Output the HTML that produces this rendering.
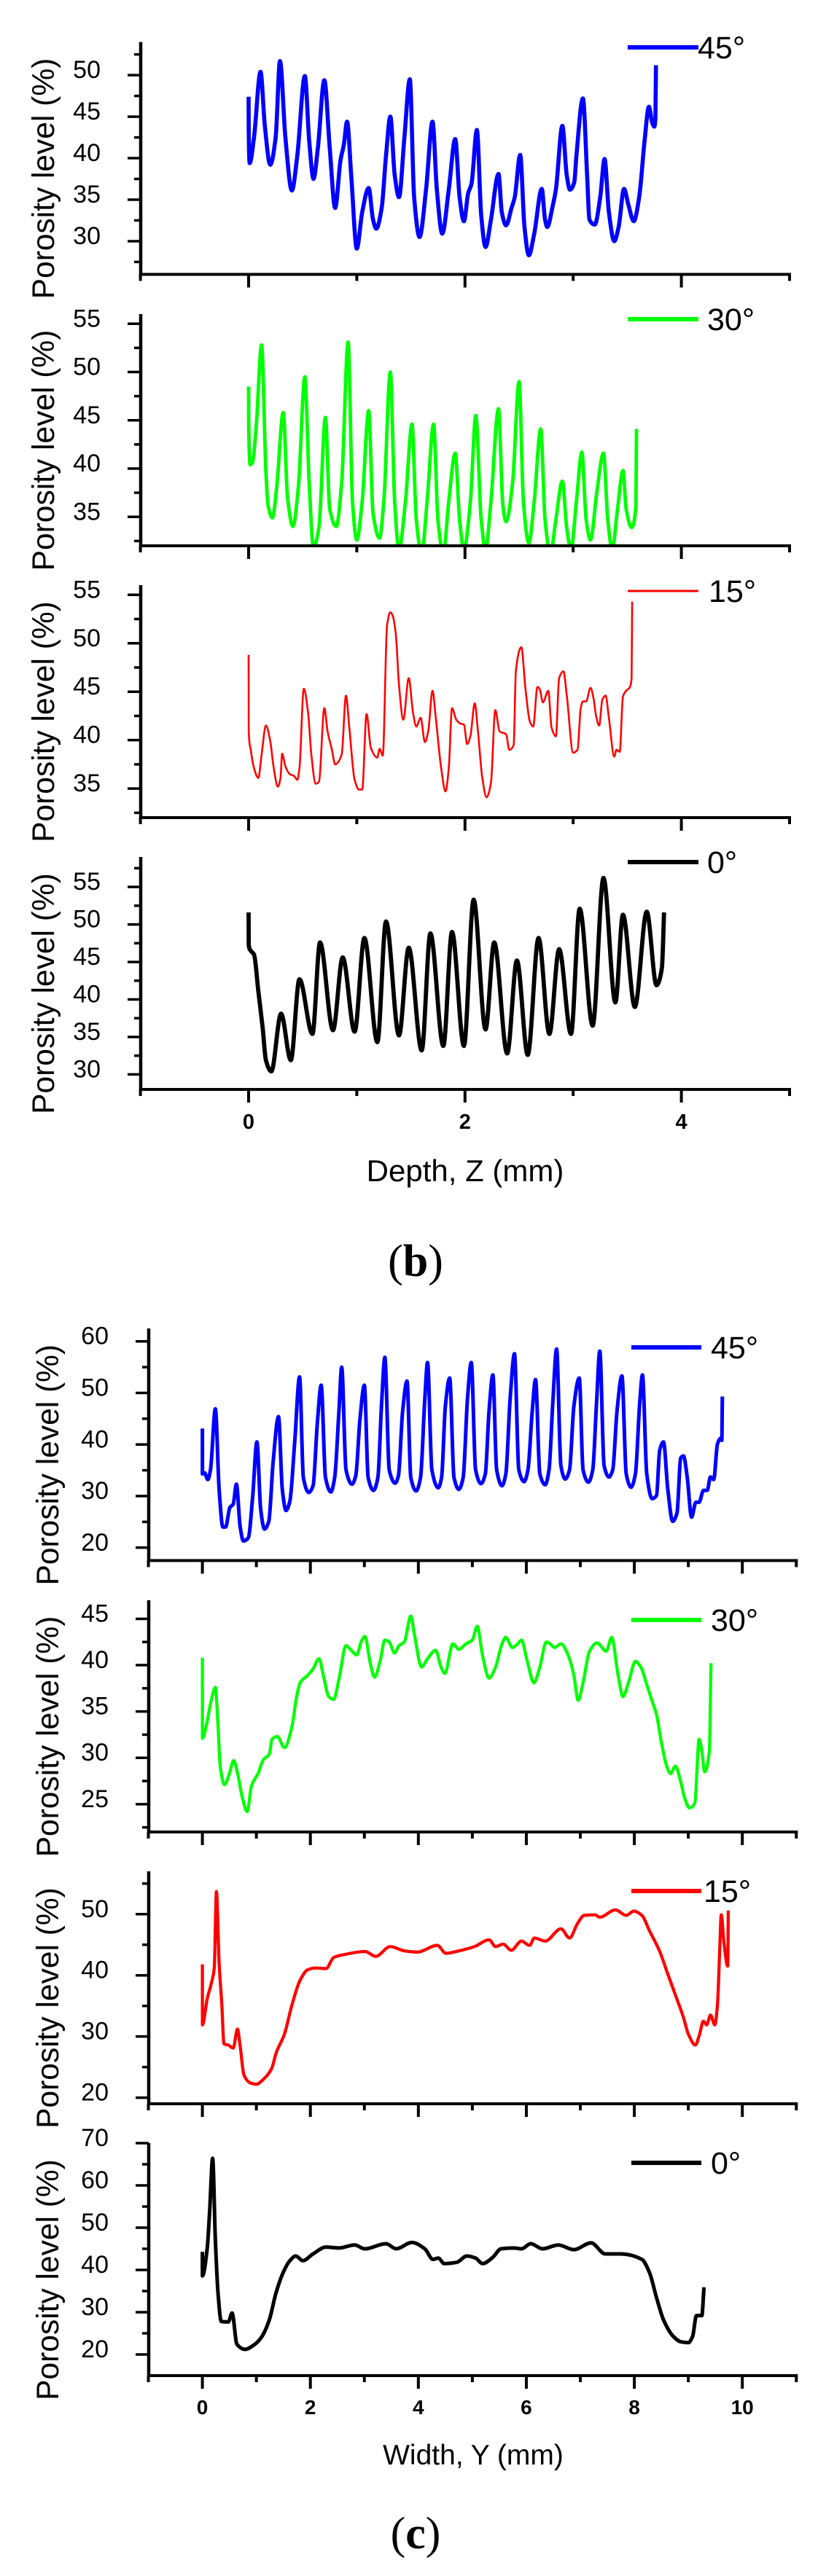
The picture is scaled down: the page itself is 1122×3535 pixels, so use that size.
<!DOCTYPE html>
<html lang="en">
<head>
<meta charset="utf-8">
<title>Porosity level by depth and width</title>
<style>
html,body{margin:0;padding:0;background:#fff;}
svg{display:block;}
text{font-family:"Liberation Sans",Arial,sans-serif;fill:#000;}
.cap{font-family:"Liberation Serif",serif;}
</style>
</head>
<body>
<svg id="chart" xmlns="http://www.w3.org/2000/svg" width="1122" height="3535" viewBox="0 0 1122 3535">
<rect x="0" y="0" width="1122" height="3535" fill="#fff"/>
</svg>
<script>
// ---------- x-axis ticks ----------
const depthTicks = [-1, 0, 1, 2, 3, 4, 5];
const depthLabels = [0, 2, 4];
const widthTicks = [-1, 0, 1, 2, 3, 4, 5, 6, 7, 8, 9, 10, 11];
const widthLabels = [0, 2, 4, 6, 8, 10];

// ---------- y-axis tick labels ----------
const ticksB45 = [30, 35, 40, 45, 50];
const ticksB30 = [35, 40, 45, 50, 55];
const ticksB15 = [35, 40, 45, 50, 55];
const ticksB0 = [30, 35, 40, 45, 50, 55];
const ticksC45 = [20, 30, 40, 50, 60];
const ticksC30 = [25, 30, 35, 40, 45];
const ticksC15 = [20, 30, 40, 50];
const ticksC0 = [20, 30, 40, 50, 60, 70];

// ---------- series: [position mm, porosity %] ----------
const depth45 = [[0,47.4],[.001,43.4],[.01,39.4],[.05,42.5],[.11,50.4],[.15,43.9],[.2,39.2],[.25,42.5],[.29,51.7],[.34,42.5],[.4,36.1],[.45,40.3],[.52,49.9],[.56,42.1],[.6,37.5],[.64,41.2],[.7,49.4],[.75,41.2],[.8,34],[.85,39.8],[.88,41.6],[.91,44.4],[.95,37.6],[1,29.1],[1.05,33.5],[1.11,36.4],[1.15,32.6],[1.18,31.5],[1.23,34],[1.27,40.3],[1.31,45],[1.35,38],[1.39,35.3],[1.44,42.5],[1.49,49.5],[1.53,35.3],[1.58,30.5],[1.64,36.2],[1.7,44.4],[1.74,36.2],[1.79,30.9],[1.85,36.2],[1.91,42.3],[1.95,35.3],[1.99,32.4],[2.03,35.8],[2.06,36.9],[2.11,43.4],[2.15,33.1],[2.19,29.3],[2.24,32.6],[2.31,38.1],[2.34,33.5],[2.38,31.9],[2.43,34],[2.46,35.3],[2.51,40.4],[2.55,31.7],[2.59,28.3],[2.64,30.9],[2.71,36.3],[2.74,32.6],[2.76,31.7],[2.81,34.2],[2.84,36.2],[2.9,43.9],[2.94,38],[2.97,36.2],[3.01,37.1],[3.03,40.3],[3.09,47.2],[3.13,37.6],[3.15,32.6],[3.2,32],[3.25,35.3],[3.29,39.9],[3.33,33.5],[3.38,30],[3.42,31.7],[3.47,36.3],[3.51,34.4],[3.56,32.4],[3.61,35.3],[3.66,42.1],[3.7,46.2],[3.73,44.3],[3.75,43.8],[3.76,44.8],[3.765,51.2]];

const depth30 = [[0,48.5],[.001,44.6],[.015,40.4],[.035,40.6],[.07,44.3],[.12,52.8],[.16,39.7],[.18,36.2],[.22,34.9],[.26,38.1],[.32,45.8],[.36,37],[.41,34],[.46,38.1],[.52,49.5],[.56,38.5],[.6,31.8],[.65,33.9],[.71,45.3],[.75,35.8],[.81,34],[.86,38.5],[.92,53.1],[.96,36.6],[1,32.6],[1.05,36.6],[1.11,46],[1.15,35.4],[1.21,32.8],[1.25,36.6],[1.31,50],[1.35,36.6],[1.39,31.6],[1.45,36.6],[1.51,44.6],[1.55,34.7],[1.6,31.2],[1.65,36.6],[1.71,44.6],[1.75,34.7],[1.8,31.2],[1.85,36.6],[1.91,41.6],[1.95,34.7],[1.99,31.6],[2.05,36.6],[2.1,45.5],[2.15,34.7],[2.19,31.6],[2.24,36.6],[2.31,46.2],[2.35,36.2],[2.38,34.5],[2.44,38.5],[2.5,49],[2.54,36.6],[2.59,32.3],[2.64,36.6],[2.7,44.1],[2.74,34.7],[2.79,31.2],[2.84,34.7],[2.9,38.7],[2.94,33.9],[2.98,31.6],[3.03,36.6],[3.08,41.7],[3.12,34.7],[3.16,32.6],[3.22,37.7],[3.28,41.6],[3.32,34.7],[3.36,31.6],[3.41,35.8],[3.46,39.8],[3.49,35.8],[3.54,33.9],[3.58,36.2],[3.585,44.1]];

const depth15 = [[0,48.8],[.001,40.9],[.02,39],[.05,37.1],[.09,36.1],[.12,38.5],[.16,41.5],[.2,39.9],[.23,37.3],[.27,35.2],[.295,36.1],[.31,38.6],[.34,37.3],[.38,36.5],[.42,36.3],[.45,35.9],[.47,37.1],[.51,45.3],[.55,42.8],[.58,38.5],[.62,35.5],[.65,35.7],[.7,43.3],[.73,40.9],[.77,39],[.8,37.5],[.86,38.5],[.9,44.6],[.93,41.4],[.98,35.9],[1.02,34.9],[1.05,34.9],[1.09,42.7],[1.13,39.2],[1.19,38.2],[1.21,39.1],[1.24,38.4],[1.28,51.9],[1.31,53.2],[1.33,52.9],[1.36,51],[1.39,45.7],[1.43,42.1],[1.48,46.4],[1.52,42.8],[1.55,41.4],[1.59,42.3],[1.63,39.8],[1.66,40.9],[1.7,45.1],[1.73,42.3],[1.78,37.1],[1.82,34.7],[1.85,37.1],[1.88,43.3],[1.92,42.1],[1.96,41.7],[1.99,41.6],[2.02,39.6],[2.05,40.4],[2.09,43.8],[2.12,40.9],[2.16,36.1],[2.2,34.1],[2.24,35.6],[2.28,43.1],[2.32,40.9],[2.38,40.6],[2.41,39],[2.45,39.5],[2.47,47.1],[2.52,49.6],[2.56,45.2],[2.6,41.9],[2.63,41.4],[2.67,45.5],[2.69,45.3],[2.72,43.9],[2.77,45.1],[2.8,41.3],[2.84,40.4],[2.87,46.4],[2.91,47.1],[2.94,44.7],[3,38.7],[3.04,39],[3.07,43.3],[3.09,44],[3.12,44],[3.16,45.4],[3.19,44.2],[3.21,42.6],[3.24,41.5],[3.27,44.2],[3.3,44.6],[3.33,42.3],[3.38,38.3],[3.4,39],[3.43,38.8],[3.46,44.5],[3.49,45.1],[3.52,45.4],[3.54,46.4],[3.545,54.3]];

const depth0 = [[0,51.6],[.001,47.3],[.02,46.5],[.05,46],[.09,41.1],[.13,36.2],[.16,31.9],[.21,30.4],[.3,38.1],[.39,31.9],[.47,42.7],[.59,35.4],[.66,47.6],[.78,35.9],[.87,45.6],[.98,35.7],[1.07,48.2],[1.19,34.3],[1.27,50.4],[1.39,35.2],[1.48,46.9],[1.6,33.2],[1.68,48.8],[1.8,33.8],[1.88,49],[1.99,33.8],[2.08,53.3],[2.19,36],[2.27,47.6],[2.39,32.8],[2.48,45.2],[2.58,32.6],[2.68,48.2],[2.78,35.4],[2.87,46.7],[2.98,35.4],[3.06,52.1],[3.18,36.5],[3.28,56.2],[3.39,39.6],[3.46,51.3],[3.57,39],[3.68,51.7],[3.77,41.9],[3.82,44.2],[3.84,51.6]];

const width45 = [[0,43.1],[.001,34.3],[.04,34.5],[.1,33.2],[.15,35.1],[.24,46.9],[.31,31.3],[.38,24],[.43,24],[.51,27.8],[.57,28.4],[.63,32.3],[.7,24],[.76,21.3],[.85,21.9],[.93,29.7],[1.01,40.5],[1.08,27.4],[1.15,23.6],[1.23,25.1],[1.31,36.6],[1.41,45.4],[1.48,31.3],[1.55,27.2],[1.62,29],[1.71,40.5],[1.8,53.1],[1.87,33.6],[1.97,30.7],[2.05,32],[2.13,44.3],[2.2,51.5],[2.28,33.6],[2.38,30.8],[2.45,33.6],[2.53,46.6],[2.58,55],[2.66,35.1],[2.77,32.3],[2.84,33.9],[2.92,45.1],[3,51.5],[3.07,33.6],[3.17,31.1],[3.25,33.6],[3.32,48.1],[3.38,56.9],[3.46,35.1],[3.57,32.5],[3.63,33.9],[3.71,46.6],[3.79,52.3],[3.86,33.6],[3.96,31],[4.04,33.6],[4.12,48.9],[4.17,55.9],[4.25,35.1],[4.37,31.6],[4.43,33.6],[4.5,47.4],[4.58,52.9],[4.66,33.6],[4.75,31.3],[4.83,33.6],[4.91,48.9],[4.98,55.9],[5.06,35.1],[5.16,32.4],[5.24,34.3],[5.31,46.6],[5.38,53.5],[5.45,35.1],[5.55,32],[5.62,34.3],[5.7,48.9],[5.78,57.6],[5.86,35.1],[5.96,32.8],[6.03,35.1],[6.11,46.6],[6.17,52.6],[6.25,34.3],[6.35,32.2],[6.42,35.1],[6.49,48.1],[6.56,58.5],[6.64,35.9],[6.72,33.3],[6.8,35.1],[6.88,47.4],[6.98,52.9],[7.05,35.1],[7.15,32.7],[7.23,35.1],[7.3,48.1],[7.36,58.1],[7.44,35.9],[7.53,33.7],[7.6,35.1],[7.68,46.6],[7.77,53.3],[7.85,34.3],[7.94,31.7],[8.02,34.3],[8.1,48.1],[8.15,53.5],[8.23,34.3],[8.33,29.5],[8.41,30.1],[8.47,38.9],[8.54,40.5],[8.62,31.3],[8.71,25.1],[8.79,26.7],[8.86,37.4],[8.91,37.8],[8.98,33.6],[9.06,25.9],[9.14,28.8],[9.2,28.8],[9.28,31.1],[9.35,31.1],[9.41,33.7],[9.47,33.2],[9.54,40.1],[9.6,41.2],[9.62,40.8],[9.63,49.3]];

const width30 = [[0,40.8],[.001,32.1],[.07,33.4],[.16,36.1],[.24,37.6],[.29,33.4],[.33,29.1],[.41,27.1],[.5,28.3],[.58,29.7],[.66,28.1],[.74,25.7],[.83,24.2],[.91,27],[1.03,28.3],[1.13,29.8],[1.24,30.4],[1.29,32],[1.39,32.3],[1.52,31.1],[1.66,33.4],[1.74,36.4],[1.81,38.1],[1.95,38.9],[2.05,39.6],[2.16,40.7],[2.24,38.9],[2.34,36.6],[2.43,36.3],[2.53,38.5],[2.66,42.1],[2.74,41.7],[2.86,41.1],[2.94,42.5],[3.01,43.1],[3.11,40.2],[3.19,38.7],[3.29,40.4],[3.38,42.7],[3.46,42.5],[3.56,41.3],[3.64,42.1],[3.74,42.5],[3.86,45.3],[3.93,43.2],[4.06,39.8],[4.17,40.7],[4.32,41.6],[4.42,39.8],[4.49,39.1],[4.64,42.3],[4.75,41.7],[4.88,42.3],[5,42.7],[5.09,44.2],[5.19,41],[5.31,38.6],[5.43,39.8],[5.55,42.3],[5.62,43],[5.74,41.9],[5.84,42.3],[5.91,42.7],[6.01,40.6],[6.14,38.1],[6.25,39.8],[6.37,42.5],[6.44,42.3],[6.52,41.9],[6.64,42.3],[6.78,41],[6.88,38.9],[6.96,36.2],[7.05,38.1],[7.17,41.5],[7.31,42.4],[7.48,41.5],[7.58,43],[7.7,38.9],[7.79,36.6],[7.89,38.1],[8.02,40.4],[8.12,39.8],[8.23,37.9],[8.33,36.1],[8.41,34.7],[8.5,31.7],[8.6,29.1],[8.67,28.3],[8.76,29.1],[8.86,27.4],[8.93,25.7],[9.02,24.6],[9.12,25.1],[9.2,32],[9.25,30.8],[9.3,28.5],[9.39,30.8],[9.42,40.2]];

const width15 = [[0,41.8],[.001,31.9],[.09,36.2],[.16,38.5],[.22,41.2],[.26,53.7],[.31,42],[.36,35.2],[.4,28.8],[.48,28.6],[.57,28.1],[.65,31.2],[.7,28.4],[.77,23.7],[.89,22.4],[1,22.2],[1.13,23],[1.28,24.7],[1.37,27.4],[1.52,30.4],[1.66,35.2],[1.81,39.2],[1.95,40.9],[2.1,41.2],[2.29,41.1],[2.43,42.9],[2.63,43.4],[3.01,43.9],[3.21,43.1],[3.48,44.7],[3.74,44],[3.98,43.8],[4.35,44.9],[4.51,43.6],[4.75,44],[5.04,44.7],[5.31,45.8],[5.43,44.7],[5.57,45.1],[5.72,44.1],[5.91,45.6],[6.06,44.9],[6.15,46.1],[6.35,45.6],[6.64,47.6],[6.8,46.1],[6.95,48.5],[7.07,49.8],[7.27,49.9],[7.36,49.5],[7.65,50.7],[7.85,49.8],[7.99,50.5],[8.14,49.8],[8.28,47.3],[8.47,43.9],[8.62,40.2],[8.76,36.8],[8.91,33.1],[9,30.4],[9.13,28.6],[9.2,30.1],[9.28,32.5],[9.34,31.9],[9.41,33.5],[9.49,31.9],[9.54,35.2],[9.58,43.9],[9.61,49.9],[9.66,45.3],[9.73,41.5],[9.74,50.6]];

const width0 = [[0,44.3],[.001,38.6],[.09,45.2],[.135,54],[.19,66.4],[.24,47.2],[.29,34.5],[.35,27.8],[.48,27.7],[.55,29.8],[.64,22.4],[.79,21.2],[.96,22.3],[1.09,24],[1.24,28.2],[1.36,34.4],[1.49,39.2],[1.61,42],[1.73,43.3],[1.86,42.2],[2.05,43.8],[2.29,45.4],[2.53,45.2],[2.82,45.9],[3.01,45],[3.4,46.2],[3.59,45],[3.88,46.5],[4.12,45],[4.27,42.5],[4.37,42.8],[4.48,41.5],[4.71,41.8],[4.9,43.3],[5.06,42.8],[5.19,41.5],[5.38,43],[5.53,45],[5.77,45.2],[5.91,45],[6.08,46.2],[6.3,45],[6.59,45.9],[6.88,44.8],[7.2,46.4],[7.46,43.8],[7.75,43.8],[8.14,42.5],[8.28,39.4],[8.41,33.5],[8.54,28.2],[8.72,24.3],[8.86,23],[9,22.8],[9.08,24.3],[9.15,29.2],[9.25,29.2],[9.29,35.9]];

// ---------- layout (separate from the data) ----------
const layoutB = {axisX:193, x0:341, xPerUnit:148.4, xMin:-1, xMax:5, labelX:138, titleX:74, legX1:861, legX2:958};
const layoutC = {axisX:204, x0:277.6, xPerUnit:74.06, xMin:-1, xMax:11, labelX:149, titleX:80, legX1:866, legX2:962};

const panels = [
  {key:'depth-45', name:'45°', L:layoutB, data:depth45, ticks:ticksB45, step:5, yMin:26, yMax:54, bottom:376.5, top:57.6, color:'#0000ff', lw:5.6, legY:65, legTx:957, xTicks:depthTicks},
  {key:'depth-30', name:'30°', L:layoutB, data:depth30, ticks:ticksB30, step:5, yMin:32, yMax:56, bottom:749, top:431, color:'#00ff00', lw:4.8, legY:438, legTx:970, xTicks:depthTicks},
  {key:'depth-15', name:'15°', L:layoutB, data:depth15, ticks:ticksB15, step:5, yMin:32, yMax:56, bottom:1122, top:803, color:'#ff0000', lw:2.6, legY:811, legTx:972, xTicks:depthTicks},
  {key:'depth-0', name:'0°', L:layoutB, data:depth0, ticks:ticksB0, step:5, yMin:28, yMax:59, bottom:1495, top:1176, color:'#000000', lw:5.8, legY:1183, legTx:970, xTicks:depthTicks},
  {key:'width-45', name:'45°', L:layoutC, data:width45, ticks:ticksC45, step:10, yMin:17.5, yMax:62.5, bottom:2141.5, top:1823, color:'#0000ff', lw:5, legY:1849, legTx:975, xTicks:widthTicks},
  {key:'width-30', name:'30°', L:layoutC, data:width30, ticks:ticksC30, step:5, yMin:22, yMax:47, bottom:2514, top:2196, color:'#00ff00', lw:4.3, legY:2223, legTx:975, xTicks:widthTicks},
  {key:'width-15', name:'15°', L:layoutC, data:width15, ticks:ticksC15, step:10, yMin:19, yMax:57, bottom:2887, top:2568, color:'#ff0000', lw:4.3, legY:2595, legTx:965, xTicks:widthTicks},
  {key:'width-0', name:'0°', L:layoutC, data:width0, ticks:ticksC0, step:10, yMin:15, yMax:70, bottom:3260, top:2941, color:'#000000', lw:5, legY:2968, legTx:975, xTicks:widthTicks}
];

const svg = document.getElementById('chart');
const NS = 'http://www.w3.org/2000/svg';

function make(tag, attrs, text) {
  const el = document.createElementNS(NS, tag);
  for (const k in attrs) el.setAttribute(k, attrs[k]);
  if (text !== undefined) el.textContent = text;
  svg.appendChild(el);
  return el;
}

function monotonePath(pts) {
  const n = pts.length, d = [], m = [];
  for (let i = 0; i < n - 1; i++) d.push((pts[i+1][1] - pts[i][1]) / (pts[i+1][0] - pts[i][0]));
  m.push(d[0]);
  for (let i = 1; i < n - 1; i++) {
    if (d[i-1] * d[i] <= 0) m.push(0);
    else {
      const h0 = pts[i][0] - pts[i-1][0], h1 = pts[i+1][0] - pts[i][0];
      const w1 = 2 * h1 + h0, w2 = h1 + 2 * h0;
      m.push((w1 + w2) / (w1 / d[i-1] + w2 / d[i]));
    }
  }
  m.push(d[n-2]);
  let s = 'M' + pts[0][0].toFixed(2) + ' ' + pts[0][1].toFixed(2);
  for (let i = 0; i < n - 1; i++) {
    const h = (pts[i+1][0] - pts[i][0]) / 3;
    s += 'C' + (pts[i][0] + h).toFixed(2) + ' ' + (pts[i][1] + m[i] * h).toFixed(2) + ' ' +
         (pts[i+1][0] - h).toFixed(2) + ' ' + (pts[i+1][1] - m[i+1] * h).toFixed(2) + ' ' +
         pts[i+1][0].toFixed(2) + ' ' + pts[i+1][1].toFixed(2);
  }
  return s;
}

const defs = document.createElementNS(NS, 'defs');
svg.appendChild(defs);

panels.forEach(function (p) {
  const L = p.L;
  const xScale = function (v) { return L.x0 + L.xPerUnit * v; };
  const yScale = function (v) { return p.bottom - (v - p.yMin) * (p.bottom - p.top) / (p.yMax - p.yMin); };

  // clip region so valleys below the axis are cut off
  const clip = document.createElementNS(NS, 'clipPath');
  clip.setAttribute('id', 'clip-' + p.key);
  const cr = document.createElementNS(NS, 'rect');
  cr.setAttribute('x', L.axisX);
  cr.setAttribute('y', p.top - 60);
  cr.setAttribute('width', 1122 - L.axisX);
  cr.setAttribute('height', p.bottom - p.top + 60);
  clip.appendChild(cr);
  defs.appendChild(clip);

  // series
  const pts = p.data.map(function (d) { return [xScale(d[0]), yScale(d[1])]; });
  const line = make('path', {d: monotonePath(pts), fill: 'none', stroke: p.color, 'stroke-width': p.lw, 'stroke-linejoin': 'round', 'clip-path': 'url(#clip-' + p.key + ')'});
  
  

  // y axis
  const yAxis = make('line', {x1: L.axisX, x2: L.axisX, y1: p.top, y2: p.bottom + 2, stroke: '#000', 'stroke-width': 4.5});
  
  

  // x axis
  const xAxis = make('line', {x1: L.axisX - 2, x2: xScale(L.xMax) + 2, y1: p.bottom, y2: p.bottom, stroke: '#000', 'stroke-width': 4});
  
  

  // y ticks and labels
  p.ticks.forEach(function (v) {
    const t = make('line', {x1: L.axisX - 18, x2: L.axisX, y1: yScale(v), y2: yScale(v), stroke: '#000', 'stroke-width': 3.5});
    
    
    const lab = make('text', {x: L.labelX, y: yScale(v) + 4, 'text-anchor': 'end', 'font-size': 34}, String(v));
    
    
  });
  const first = p.ticks[0] - p.step * 3 / 2;
  for (let v = first; v < p.yMax; v += p.step) {
    if (v <= p.yMin || v % p.step === 0) continue;
    const mt = make('line', {x1: L.axisX - 9, x2: L.axisX, y1: yScale(v), y2: yScale(v), stroke: '#000', 'stroke-width': 3.5});
    
    
  }

  // x ticks
  p.xTicks.forEach(function (v) {
    const major = v % 2 === 0;
    const t = make('line', {x1: xScale(v), x2: xScale(v), y1: p.bottom, y2: p.bottom + (major ? 18 : 9), stroke: '#000', 'stroke-width': 4});
    
    
  });

  // y title
  const cy = (p.bottom + p.top) / 2 + 28;
  const title = make('text', {x: 0, y: 0, transform: 'translate(' + L.titleX + ' ' + cy + ') rotate(-90)', 'text-anchor': 'middle', 'font-size': 42.5}, 'Porosity level (%)');
  
  

  // legend
  const ll = make('line', {x1: L.legX1, x2: L.legX2, y1: p.legY, y2: p.legY, stroke: p.color, 'stroke-width': p.key === 'depth-15' ? 3 : 6});
  
  
  const lt = make('text', {x: p.legTx, y: p.legY + 15, 'font-size': 43}, p.name);
  
  
});

// bottom x tick labels
depthLabels.forEach(function (v) {
  const t = make('text', {x: layoutB.x0 + layoutB.xPerUnit * v, y: 1549, 'text-anchor': 'middle', 'font-size': 29, 'font-weight': 'bold'}, String(v));
  
  
});
widthLabels.forEach(function (v) {
  const t = make('text', {x: layoutC.x0 + layoutC.xPerUnit * v, y: 3313, 'text-anchor': 'middle', 'font-size': 28, 'font-weight': 'bold'}, String(v));
  
  
});

// axis titles
const depthTitle = make('text', {x: 638, y: 1621, 'text-anchor': 'middle', 'font-size': 42}, 'Depth, Z (mm)');


const widthTitle = make('text', {x: 649, y: 3382, 'text-anchor': 'middle', 'font-size': 39}, 'Width, Y (mm)');


</script>
<svg style="position:absolute;left:0;top:0" xmlns="http://www.w3.org/2000/svg" width="1122" height="3535" viewBox="0 0 1122 3535">
<text class="cap" x="570" y="1751" text-anchor="middle" font-size="62">(<tspan font-weight="bold">b</tspan>)</text>
<text class="cap" x="570" y="3497" text-anchor="middle" font-size="62">(<tspan font-weight="bold">c</tspan>)</text>
</svg>
</body>
</html>
